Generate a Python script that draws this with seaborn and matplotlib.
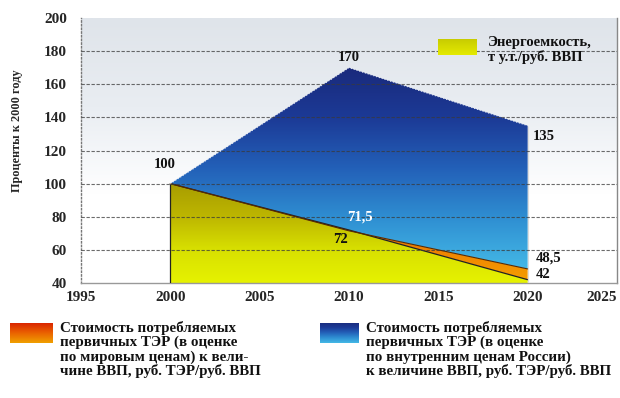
import numpy as np
import pandas as pd
import matplotlib
matplotlib.use("Agg")
import matplotlib.pyplot as plt
from matplotlib.colors import LinearSegmentedColormap
import seaborn as sns

# Index values, percent of the 2000 level
years = [2000, 2010, 2020]
domestic_cost = [100, 170, 135]      # cost of primary fuel at Russian domestic prices per GDP
world_cost = [100, 71.5, 48.5]       # cost of primary fuel at world prices per GDP
energy_intensity = [100, 72, 42]     # energy intensity, t c.e. per rouble of GDP

domestic_labels = ["100", "170", "135"]
world_labels = ["", "71,5", "48,5"]
intensity_labels = ["", "72", "42"]

x_ticks = [1995, 2000, 2005, 2010, 2015, 2020, 2025]
y_ticks = [40, 60, 80, 100, 120, 140, 160, 180, 200]

df = pd.DataFrame({"year": years, "domestic": domestic_cost,
                   "world": world_cost, "intensity": energy_intensity})

sns.set_theme(style="white")
plt.rcParams["font.family"] = ["Liberation Serif", "DejaVu Serif"]
plt.rcParams["font.weight"] = "bold"

fig = plt.figure(figsize=(6.2, 3.98), dpi=100)
ax = fig.add_axes([81 / 620, 1 - 283 / 398, 536 / 620, 265 / 398])
ax.set_xlim(1995, 2025)
ax.set_ylim(40, 200)

blue_cmap = LinearSegmentedColormap.from_list(
    "blue", ["#44b8e6", "#2f8fd2", "#2360b8", "#1c3a96", "#1a2a7c"])
yellow_cmap = LinearSegmentedColormap.from_list(
    "yellow", ["#e6f200", "#d8e000", "#bdb600", "#a89c00"])
orange_cmap = LinearSegmentedColormap.from_list(
    "orange", ["#f5a000", "#ec7400", "#d84800"])
red_cmap = LinearSegmentedColormap.from_list(
    "red", ["#f0a000", "#ea6000", "#d82000"])
bg_cmap = LinearSegmentedColormap.from_list(
    "bg", ["#ffffff", "#ffffff", "#e9edf2", "#dfe4ea"])


def vertical_gradient(axis, cmap, y0, y1, x0=1995, x1=2025, clip=None, z=1):
    grad = np.linspace(0, 1, 256).reshape(-1, 1)
    im = axis.imshow(grad, cmap=cmap, origin="lower", aspect="auto",
                     extent=[x0, x1, y0, y1], zorder=z, interpolation="bilinear")
    if clip is not None:
        im.set_clip_path(clip.get_paths()[0], transform=axis.transData)
    return im


# Plot background
vertical_gradient(ax, bg_cmap, 40, 200, z=0)

# Stacked bands, each filled with a vertical gradient
poly_y = ax.fill_between(df["year"], 40, df["intensity"], facecolor="none", edgecolor="none")
poly_o = ax.fill_between(df["year"], df["intensity"], df["world"], facecolor="none", edgecolor="none")
poly_b = ax.fill_between(df["year"], df["world"], df["domestic"], facecolor="none", edgecolor="none")
vertical_gradient(ax, yellow_cmap, 40, max(energy_intensity), clip=poly_y, z=1)
vertical_gradient(ax, orange_cmap, 40, max(world_cost), clip=poly_o, z=2)
vertical_gradient(ax, blue_cmap, min(world_cost), max(domestic_cost), clip=poly_b, z=3)
ax.set_xlim(1995, 2025)
ax.set_ylim(40, 200)

# Boundary lines
sns.lineplot(data=df, x="year", y="intensity", color="#222222", lw=0.9, ax=ax, zorder=4)
sns.lineplot(data=df, x="year", y="world", color="#5a2a00", lw=0.8, ax=ax, zorder=4)
sns.lineplot(data=df, x="year", y="domestic", color="#e8ecf4", lw=0.8, ls=":", ax=ax, zorder=4)
ax.vlines(years[0], 40, energy_intensity[0], color="#222222", lw=0.9, zorder=4)
ax.vlines(years[-1], 40, domestic_cost[-1], color="#dddddd", lw=0.8, zorder=4)

# Dashed grid over everything
for yv in y_ticks[1:-1]:
    ax.axhline(yv, color="#3a3a3a", lw=0.8, ls=(0, (3, 1.5)), alpha=0.75, zorder=5)

ax.set_xticks(x_ticks)
ax.set_yticks(y_ticks)
ax.set_xticklabels([str(v) for v in x_ticks], fontsize=11, fontweight="bold")
ax.set_yticklabels([str(v) for v in y_ticks], fontsize=11, fontweight="bold")
ax.get_xticklabels()[-1].set_horizontalalignment("right")
ax.tick_params(axis="x", length=0, pad=6)
ax.tick_params(axis="y", length=0, pad=10)
ax.set_xlabel("")
ax.set_ylabel("Проценты к 2000 году", fontsize=8.8, fontweight="bold")
ax.yaxis.set_label_coords(-0.108, 0.574)

ax.spines["top"].set_visible(False)
ax.spines["left"].set_color("#777777")
ax.spines["left"].set_linestyle(":")
ax.spines["left"].set_linewidth(1.0)
ax.spines["bottom"].set_color("#999999")
ax.spines["bottom"].set_linewidth(1.0)
ax.spines["right"].set_color("#888888")
ax.spines["right"].set_linewidth(1.0)

# Value labels
label_style = dict(textcoords="offset points", fontsize=10.5, fontweight="bold")
offsets_dom = [(-4, 9), (0, 3), (4, -3)]
align_dom = [("center", "bottom"), ("center", "bottom"), ("left", "top")]
for xv, yv, t, off, (ha, va) in zip(years, domestic_cost, domestic_labels, offsets_dom, align_dom):
    ax.annotate(t, (xv, yv), xytext=off, ha=ha, va=va, color="#111111", zorder=6, **label_style)

offsets_world = [(0, 0), (8, 10), (6, 8)]
align_world = [("center", "center"), ("center", "center"), ("left", "center")]
colors_world = ["#111111", "white", "#111111"]
for xv, yv, t, off, (ha, va), c in zip(years, world_cost, world_labels, offsets_world, align_world, colors_world):
    if t:
        ax.annotate(t, (xv, yv), xytext=off, ha=ha, va=va, color=c, zorder=6, **label_style)

offsets_int = [(0, 0), (-6, -7), (6, 4)]
align_int = [("center", "center"), ("center", "center"), ("left", "center")]
for xv, yv, t, off, (ha, va) in zip(years, energy_intensity, intensity_labels, offsets_int, align_int):
    if t:
        ax.annotate(t, (xv, yv), xytext=off, ha=ha, va=va, color="#111111", zorder=6, **label_style)

# Legend entry inside the plot
leg_ax = fig.add_axes([438 / 620, 1 - 55 / 398, 39 / 620, 16 / 398])
leg_ax.imshow(np.linspace(0, 1, 64).reshape(-1, 1), cmap=LinearSegmentedColormap.from_list(
    "ly", ["#e4ea00", "#c8cc00"]), aspect="auto", origin="lower")
leg_ax.set_axis_off()
fig.text(488 / 620, 1 - 36 / 398, "Энергоемкость,\nт у.т./руб. ВВП", fontsize=10.5,
         fontweight="bold", va="top", ha="left", linespacing=1.05, color="#111111")

# Legend entries below the plot
legend_text_style = dict(fontsize=10.8, fontweight="bold", va="top", ha="left",
                         linespacing=1.08, color="#111111")
red_ax = fig.add_axes([10 / 620, 1 - 343 / 398, 42 / 620, 20 / 398])
red_ax.imshow(np.linspace(0, 1, 64).reshape(-1, 1), cmap=red_cmap, aspect="auto", origin="lower")
red_ax.set_axis_off()
fig.text(60 / 620, 1 - 321 / 398,
         "Стоимость потребляемых\nпервичных ТЭР (в оценке\nпо мировым ценам) к вели-\nчине ВВП, руб. ТЭР/руб. ВВП",
         **legend_text_style)

blue_ax = fig.add_axes([320 / 620, 1 - 343 / 398, 39 / 620, 20 / 398])
blue_ax.imshow(np.linspace(0, 1, 64).reshape(-1, 1), cmap=blue_cmap, aspect="auto", origin="lower")
blue_ax.set_axis_off()
fig.text(366 / 620, 1 - 321 / 398,
         "Стоимость потребляемых\nпервичных ТЭР (в оценке\nпо внутренним ценам России)\nк величине ВВП, руб. ТЭР/руб. ВВП",
         **legend_text_style)

fig.savefig("out.png", dpi=100)
